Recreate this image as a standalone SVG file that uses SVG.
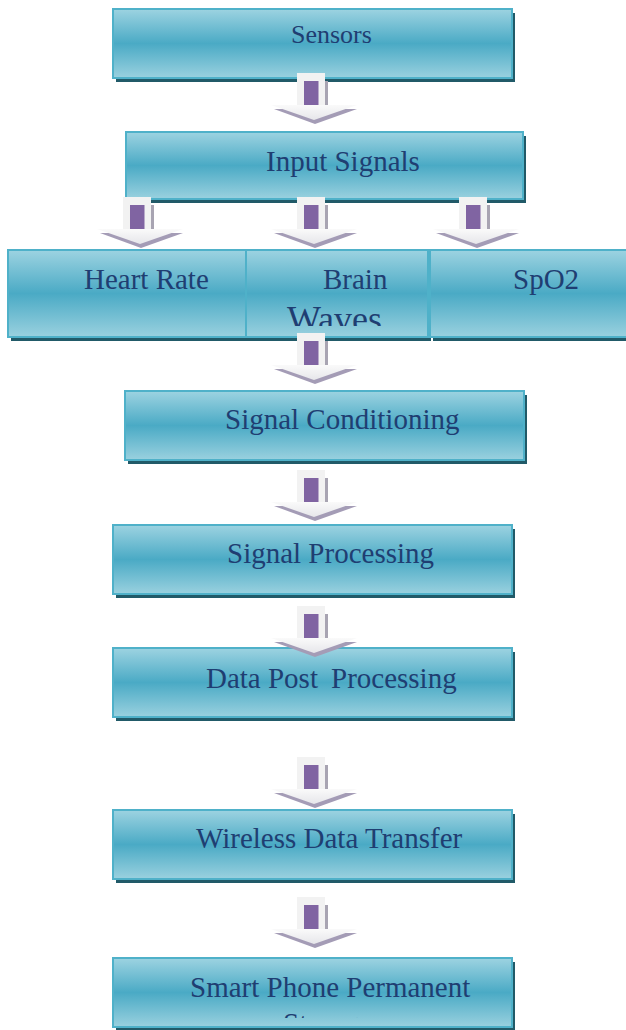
<svg xmlns="http://www.w3.org/2000/svg" width="626" height="1030" viewBox="0 0 626 1030">
<defs>
<linearGradient id="bg" x1="0" y1="0" x2="0" y2="1">
<stop offset="0" stop-color="#9dd3e1"/>
<stop offset="0.5" stop-color="#4aaac5"/>
<stop offset="1" stop-color="#9ad1df"/>
</linearGradient>
<linearGradient id="hg" x1="0" y1="0" x2="0" y2="1">
<stop offset="0" stop-color="#fafafa"/>
<stop offset="1" stop-color="#e6e6ea"/>
</linearGradient>
<clipPath id="clipRow"><rect x="246" y="250" width="182" height="76"/></clipPath>
<clipPath id="clipLast"><rect x="113" y="958" width="399" height="60"/></clipPath>
<g id="arrow">
<rect x="-17" y="0" width="28" height="36" fill="#f2f2f2"/>
<rect x="11" y="8" width="3" height="28" fill="#a8a4b2"/>
<path d="M-10,8 H4.5 V33 L-2.75,36 L-10,33 Z" fill="#8064a2"/>
<polygon points="-40,36 43,36 1,51" fill="#a49cb6"/>
<polygon points="-43,32 43,32 0,47" fill="url(#hg)"/>
</g>
</defs>
<style>
.box{fill:url(#bg);stroke:#4fb1c9;stroke-width:2}
.sh{fill:#215a68}
.t{font-family:"Liberation Serif","Times New Roman",serif;font-size:29px;fill:#1f3e72}
</style>
<g id="sensors">
<rect class="sh" x="116" y="13" width="399" height="69"/>
<rect class="box" x="113" y="9" width="399" height="69"/>
<text class="t" x="291" y="43" style="font-size:26px">Sensors</text>
</g>
<g id="input-signals">
<rect class="sh" x="129" y="136" width="397" height="67"/>
<rect class="box" x="126" y="132" width="397" height="67"/>
<text class="t" x="266" y="171">Input Signals</text>
</g>
<g id="heart-rate">
<rect class="sh" x="11" y="254" width="238" height="87"/>
<rect class="box" x="8" y="250" width="238" height="87"/>
<text class="t" x="84" y="289">Heart Rate</text>
</g>
<g id="brain-waves">
<rect class="sh" x="249" y="254" width="182" height="87"/>
<rect class="box" x="246" y="250" width="182" height="87"/>
<text class="t" x="323" y="289">Brain</text>
<text class="t" x="287" y="331" style="font-size:36px" clip-path="url(#clipRow)">Waves</text>
</g>
<g id="spo2">
<rect class="sh" x="433" y="254" width="200" height="87"/>
<rect class="box" x="430" y="250" width="210" height="87"/>
<text class="t" x="513" y="289">SpO2</text>
</g>
<g id="signal-conditioning">
<rect class="sh" x="128" y="395" width="399" height="69"/>
<rect class="box" x="125" y="391" width="399" height="69"/>
<text class="t" x="225" y="429">Signal Conditioning</text>
</g>
<g id="signal-processing">
<rect class="sh" x="116" y="529" width="399" height="69"/>
<rect class="box" x="113" y="525" width="399" height="69"/>
<text class="t" x="227" y="563">Signal Processing</text>
</g>
<g id="data-post-processing">
<rect class="sh" x="116" y="652" width="399" height="69"/>
<rect class="box" x="113" y="648" width="399" height="69"/>
<text class="t" x="206" y="688">Data Post<tspan x="331">Processing</tspan></text>
</g>
<g id="wireless-data-transfer">
<rect class="sh" x="116" y="814" width="399" height="69"/>
<rect class="box" x="113" y="810" width="399" height="69"/>
<text class="t" x="196" y="848">Wireless Data Transfer</text>
</g>
<g id="smart-phone">
<rect class="sh" x="116" y="962" width="399" height="69"/>
<rect class="box" x="113" y="958" width="399" height="69"/>
<text class="t" x="190" y="997">Smart Phone Permanent</text>
<text class="t" x="283" y="1033" clip-path="url(#clipLast)">Storage</text>
</g>
<g id="connectors">
<use href="#arrow" x="314" y="73"/>
<use href="#arrow" x="140" y="197"/>
<use href="#arrow" x="314" y="197"/>
<use href="#arrow" x="476" y="197"/>
<use href="#arrow" x="314" y="333"/>
<use href="#arrow" x="314" y="470"/>
<use href="#arrow" x="314" y="606"/>
<use href="#arrow" x="314" y="757"/>
<use href="#arrow" x="314" y="897"/>
</g>
</svg>
